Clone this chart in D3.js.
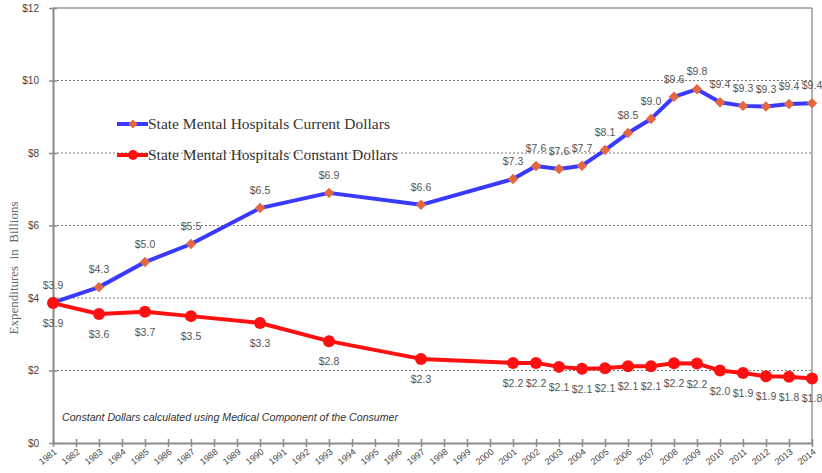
<!DOCTYPE html>
<html>
<head>
<meta charset="utf-8">
<script src="https://cdn.jsdelivr.net/npm/d3@7"></script>
<style>
  html, body { margin: 0; padding: 0; background: #fff; }
  svg { display: block; }
</style>
</head>
<body>
<svg id="chart" width="822" height="473"></svg>
<script>
// ---- data ----
const categories = d3.range(1981, 2015).map(String);
const dataYears = ["1981","1983","1985","1987","1990","1993","1997","2001","2002","2003","2004","2005","2006","2007","2008","2009","2010","2011","2012","2013","2014"];
const currentValues = [3.87, 4.30, 4.99, 5.49, 6.48, 6.90, 6.57, 7.28, 7.64, 7.56, 7.65, 8.08, 8.55, 8.94, 9.55, 9.76, 9.40, 9.30, 9.28, 9.35, 9.37];
const currentLabels = ["$3.9","$4.3","$5.0","$5.5","$6.5","$6.9","$6.6","$7.3","$7.6","$7.6","$7.7","$8.1","$8.5","$9.0","$9.6","$9.8","$9.4","$9.3","$9.3","$9.4","$9.4"];
const constantValues = [3.86, 3.56, 3.62, 3.50, 3.31, 2.81, 2.32, 2.21, 2.21, 2.10, 2.05, 2.06, 2.12, 2.12, 2.20, 2.19, 2.00, 1.93, 1.84, 1.83, 1.78];
const constantLabels = ["$3.9","$3.6","$3.7","$3.5","$3.3","$2.8","$2.3","$2.2","$2.2","$2.1","$2.1","$2.1","$2.1","$2.1","$2.2","$2.2","$2.0","$1.9","$1.9","$1.8","$1.8"];
const yTicks = [0, 2, 4, 6, 8, 10, 12];
const yTickLabels = ["$0","$2","$4","$6","$8","$10","$12"];
const seriesNames = ["State Mental Hospitals Current Dollars", "State Mental Hospitals Constant Dollars"];
const yAxisTitle = "Expenditures  in  Billions";
const note = "Constant Dollars calculated using Medical Component of the Consumer";

// ---- layout ----
const svg = d3.select("#chart");
const mLeft = 53, mRight = 812, mTop = 8, mBottom = 443;
const x = d3.scalePoint().domain(categories).range([mLeft, mRight]);
const y = d3.scaleLinear().domain([0, 12]).range([mBottom, mTop]);

const blue = "#3a3aff", red = "#ff1010", diamond = "#e5673f";

// gridlines
svg.append("g").selectAll("line").data(yTicks.filter(d => d > 0 && d < 12)).join("line")
  .attr("x1", mLeft).attr("x2", mRight)
  .attr("y1", d => y(d)).attr("y2", d => y(d))
  .attr("stroke", "#7a7a7a").attr("stroke-width", 1).attr("stroke-dasharray", "2,2");

// frame top & right
svg.append("line").attr("x1", mLeft).attr("x2", mRight).attr("y1", mTop).attr("y2", mTop)
  .attr("stroke", "#999").attr("stroke-width", 1.5);
svg.append("line").attr("x1", mRight).attr("x2", mRight).attr("y1", mTop).attr("y2", mBottom)
  .attr("stroke", "#999").attr("stroke-width", 1.5);

// y axis
const yAxis = d3.axisLeft(y).tickValues(yTicks).tickFormat((d, i) => yTickLabels[i]).tickSize(4).tickSizeOuter(0);
const gy = svg.append("g").attr("transform", `translate(${mLeft},0)`).call(yAxis);
gy.select(".domain").attr("stroke", "#8a8a8a").attr("stroke-width", 2);
gy.selectAll(".tick line").attr("stroke", "#8a8a8a").attr("stroke-width", 1.5).attr("x1", 4).attr("x2", -4);
gy.selectAll(".tick text").attr("x", -14).attr("font-family", "Liberation Sans, Arial, sans-serif")
  .attr("font-size", 10).attr("fill", "#444");

// x axis
const xAxis = d3.axisBottom(x).tickSize(4).tickSizeOuter(0);
const gx = svg.append("g").attr("transform", `translate(0,${mBottom})`).call(xAxis);
gx.select(".domain").attr("stroke", "#8a8a8a").attr("stroke-width", 2);
gx.selectAll(".tick line").attr("stroke", "#8a8a8a").attr("stroke-width", 1.5).attr("y1", -4).attr("y2", 4);
gx.selectAll(".tick text")
  .attr("font-family", "Liberation Sans, Arial, sans-serif").attr("font-size", 9).attr("fill", "#444")
  .attr("text-anchor", "end").attr("dy", null).attr("y", null)
  .attr("transform", "translate(4,10) rotate(-38)");

// y axis title
svg.append("text")
  .attr("transform", `translate(18,268) rotate(-90)`)
  .attr("text-anchor", "middle")
  .attr("font-family", "Liberation Serif, Times New Roman, serif")
  .attr("font-size", 13).attr("fill", "#666")
  .style("white-space", "pre")
  .text(yAxisTitle);

// lines
const currentPts = dataYears.map((d, i) => ({ year: d, v: currentValues[i], label: currentLabels[i] }));
const constantPts = dataYears.map((d, i) => ({ year: d, v: constantValues[i], label: constantLabels[i] }));
const line = d3.line().x(d => x(d.year)).y(d => y(d.v));

svg.append("path").datum(currentPts).attr("d", line)
  .attr("fill", "none").attr("stroke", blue).attr("stroke-width", 4).attr("stroke-linejoin", "round");
svg.append("g").selectAll("path").data(currentPts).join("path")
  .attr("d", d3.symbol(d3.symbolDiamond2, 70)())
  .attr("transform", d => `translate(${x(d.year)},${y(d.v)})`)
  .attr("fill", diamond);

svg.append("path").datum(constantPts).attr("d", line)
  .attr("fill", "none").attr("stroke", red).attr("stroke-width", 4).attr("stroke-linejoin", "round");
svg.append("g").selectAll("circle").data(constantPts).join("circle")
  .attr("cx", d => x(d.year)).attr("cy", d => y(d.v)).attr("r", 6)
  .attr("fill", red);

// data labels
svg.append("g").selectAll("text").data(currentPts).join("text")
  .attr("x", d => x(d.year)).attr("y", d => y(d.v) - 14)
  .attr("text-anchor", "middle")
  .attr("font-family", "Liberation Sans, Arial, sans-serif").attr("font-size", 10.5).attr("fill", "#555")
  .text(d => d.label);
svg.append("g").selectAll("text").data(constantPts).join("text")
  .attr("x", d => x(d.year)).attr("y", d => y(d.v) + 24)
  .attr("text-anchor", "middle")
  .attr("font-family", "Liberation Sans, Arial, sans-serif").attr("font-size", 10.5).attr("fill", "#555")
  .text(d => d.label);

// legend
const legend = svg.append("g");
const legendItems = [
  { name: seriesNames[0], color: blue, marker: "diamond", y: 124 },
  { name: seriesNames[1], color: red, marker: "circle", y: 155 }
];
legendItems.forEach(it => {
  legend.append("line").attr("x1", 117).attr("x2", 148).attr("y1", it.y).attr("y2", it.y)
    .attr("stroke", it.color).attr("stroke-width", 4);
  if (it.marker === "diamond") {
    legend.append("path").attr("d", d3.symbol(d3.symbolDiamond2, 50)())
      .attr("transform", `translate(133,${it.y})`).attr("fill", diamond);
  } else {
    legend.append("circle").attr("cx", 133).attr("cy", it.y).attr("r", 5).attr("fill", it.color);
  }
  legend.append("text").attr("x", 148).attr("y", it.y + 5)
    .attr("font-family", "Liberation Serif, Times New Roman, serif").attr("font-size", 15.5).attr("fill", "#333")
    .text(it.name);
});

// note
svg.append("text").attr("x", 62).attr("y", 421)
  .attr("font-family", "Liberation Sans, Arial, sans-serif").attr("font-style", "italic")
  .attr("font-size", 10).attr("fill", "#333")
  .attr("textLength", 336).attr("lengthAdjust", "spacingAndGlyphs")
  .text(note);
</script>
</body>
</html>
